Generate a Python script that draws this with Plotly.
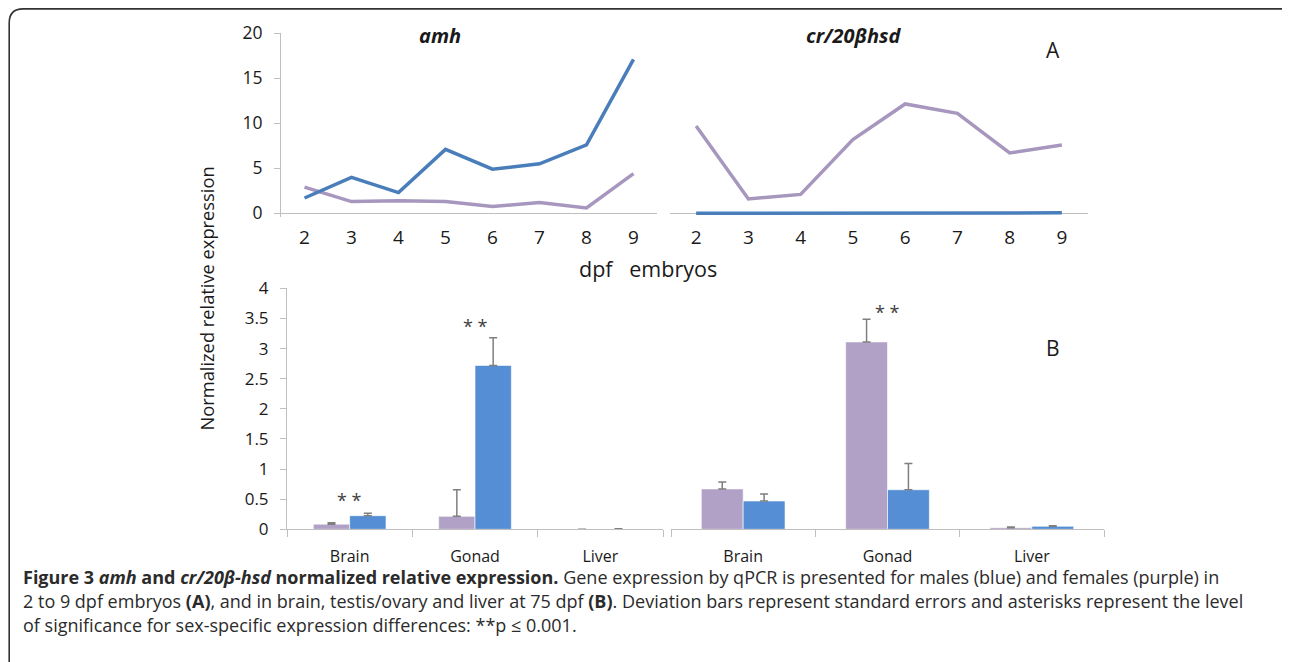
import plotly.graph_objects as go

W, H = 1290, 662
OFF = 8  # page body margin offset

# ---------------- data ----------------
days = ["2", "3", "4", "5", "6", "7", "8", "9"]
amh_male = [1.7, 4.0, 2.3, 7.1, 4.9, 5.5, 7.6, 17.1]
amh_female = [2.9, 1.3, 1.4, 1.3, 0.75, 1.2, 0.6, 4.4]
hsd_male = [0.0, 0.0, 0.0, 0.0, 0.0, 0.0, 0.02, 0.05]
hsd_female = [9.7, 1.6, 2.1, 8.2, 12.15, 11.1, 6.7, 7.6]

tissues = ["Brain", "Gonad", "Liver"]
amh_bar_female = [0.085, 0.215, 0.0]
amh_bar_female_err = [0.025, 0.44, 0.0]
amh_bar_male = [0.226, 2.72, 0.004]
amh_bar_male_err = [0.04, 0.46, 0.006]
hsd_bar_female = [0.67, 3.11, 0.027]
hsd_bar_female_err = [0.115, 0.375, 0.01]
hsd_bar_male = [0.47, 0.657, 0.05]
hsd_bar_male_err = [0.116, 0.435, 0.01]

PURPLE_LINE = "#A797BF"
BLUE_LINE = "#4A7EBB"
PURPLE_BAR = "#B2A1C7"
BLUE_BAR = "#558ED5"
AXIS = "#BFBFBF"
TXT = "#1a1a1a"
FONT = "Open Sans"


def fx(px):
    return (px - OFF) / W


def fy(py):
    return 1 - (py - OFF) / H


fig = go.Figure()

fig.add_trace(go.Scatter(x=days, y=amh_female, mode="lines", line=dict(color=PURPLE_LINE, width=3.5),
                         xaxis="x", yaxis="y", showlegend=False))
fig.add_trace(go.Scatter(x=days, y=amh_male, mode="lines", line=dict(color=BLUE_LINE, width=3.5),
                         xaxis="x", yaxis="y", showlegend=False))
fig.add_trace(go.Scatter(x=days, y=hsd_female, mode="lines", line=dict(color=PURPLE_LINE, width=3.5),
                         xaxis="x2", yaxis="y2", showlegend=False))
fig.add_trace(go.Scatter(x=days, y=hsd_male, mode="lines", line=dict(color=BLUE_LINE, width=3.5),
                         xaxis="x2", yaxis="y2", showlegend=False))

err_style = dict(type="data", symmetric=False, color="#7F7F7F", thickness=1.5, width=4)


def bars(y, err, color, xa, ya):
    e = dict(err_style)
    e["array"] = err
    e["arrayminus"] = [0] * len(err)
    return go.Bar(x=tissues, y=y, marker=dict(color=color, line=dict(color="rgba(255,255,255,0.6)", width=1)),
                  error_y=e, xaxis=xa, yaxis=ya, showlegend=False)


fig.add_trace(bars(amh_bar_female, amh_bar_female_err, PURPLE_BAR, "x3", "y3"))
fig.add_trace(bars(amh_bar_male, amh_bar_male_err, BLUE_BAR, "x3", "y3"))
fig.add_trace(bars(hsd_bar_female, hsd_bar_female_err, PURPLE_BAR, "x4", "y4"))
fig.add_trace(bars(hsd_bar_male, hsd_bar_male_err, BLUE_BAR, "x4", "y4"))

top_y0, top_y20 = 213.3, 33.3
ppu_top = (top_y0 - top_y20) / 20
ymin_top = -0.4
top_dom = [fy(top_y0 - ymin_top * ppu_top), fy(top_y20)]

bot_y0, bot_y4 = 529.3, 288.3
bot_dom = [fy(bot_y0), fy(bot_y4)]

xcat = dict(type="category", showgrid=False, zeroline=False)

fig.update_layout(
    width=W, height=H,
    margin=dict(l=0, r=0, t=0, b=0, autoexpand=False),
    paper_bgcolor="white", plot_bgcolor="rgba(0,0,0,0)",
    font=dict(family=FONT, color=TXT, size=16),
    barmode="group", bargap=0.42, bargroupgap=0,
    xaxis=dict(**xcat, domain=[fx(281), fx(657)], anchor="y", range=[-0.5, 7.5],
               showline=False, ticks="", tickfont=dict(size=19), automargin=False, ticklabelstandoff=7),
    yaxis=dict(domain=top_dom, anchor="x", range=[ymin_top, 20], tickvals=[0, 5, 10, 15, 20],
               showgrid=False, showline=True, linecolor=AXIS, linewidth=1,
               zeroline=True, zerolinecolor=AXIS, zerolinewidth=1, automargin=False,
               ticks="outside", ticklen=6, tickcolor=AXIS, tickfont=dict(size=17.5), ticklabelstandoff=8),
    xaxis2=dict(**xcat, domain=[fx(670), fx(1088)], anchor="y2", range=[-0.5, 7.5],
                showline=False, ticks="", tickfont=dict(size=19), automargin=False, ticklabelstandoff=7),
    yaxis2=dict(domain=top_dom, anchor="x2", range=[ymin_top, 20], showgrid=False, showline=False,
                zeroline=True, zerolinecolor=AXIS, zerolinewidth=1, showticklabels=False, ticks=""),
    xaxis3=dict(**xcat, domain=[fx(287), fx(663)], anchor="y3", range=[-0.5, 2.5], automargin=False,
                showline=True, linecolor=AXIS, linewidth=1, ticks="outside", tickson="boundaries",
                ticklen=7, tickcolor=AXIS, tickfont=dict(size=16), ticklabelstandoff=12),
    yaxis3=dict(domain=bot_dom, anchor="x3", range=[0, 4], tickvals=[0, 0.5, 1, 1.5, 2, 2.5, 3, 3.5, 4],
                ticktext=["0", "0.5", "1", "1.5", "2", "2.5", "3", "3.5", "4"], automargin=False,
                showgrid=False, showline=True, linecolor=AXIS, linewidth=1, zeroline=False,
                ticks="outside", ticklen=6, tickcolor=AXIS, tickfont=dict(size=17), ticklabelstandoff=8),
    xaxis4=dict(**xcat, domain=[fx(671), fx(1104)], anchor="y4", range=[-0.5, 2.5], automargin=False,
                showline=True, linecolor=AXIS, linewidth=1, ticks="outside", tickson="boundaries",
                ticklen=7, tickcolor=AXIS, tickfont=dict(size=16), ticklabelstandoff=12),
    yaxis4=dict(domain=bot_dom, anchor="x4", range=[0, 4], showgrid=False, showline=False,
                zeroline=False, showticklabels=False, ticks=""),
)

ann = []


def pa(text, px, py, size=16, **kw):
    d = dict(text=text, x=fx(px), y=fy(py), xref="paper", yref="paper", showarrow=False,
             xanchor="center", yanchor="middle",
             font=dict(size=size, family=FONT, color=kw.pop("color", TXT)))
    d.update(kw)
    ann.append(d)


pa("<b><i>amh</i></b>", 440, 35, 20)
pa("<b><i>cr/20βhsd</i></b>", 853, 35, 20)
pa("A", 1053, 50, 21)
pa("B", 1053, 348, 21)
pa("dpf   embryos", 648, 268, 21.5)
pa("Normalized relative expression", 206, 298.5, 18.3, textangle=-90)

for xa, ya, cat, yv in [("x3", "y3", "Brain", 0.49), ("x3", "y3", "Gonad", 3.37), ("x4", "y4", "Gonad", 3.6)]:
    ann.append(dict(text="* *", x=cat, y=yv, xref=xa, yref=ya, showarrow=False,
                    xanchor="center", yanchor="middle",
                    font=dict(size=18, family=FONT, color="#404040")))

cap1 = ("<b>Figure 3 </b><b><i>amh</i></b><b> and </b><b><i>cr/20β-hsd</i></b><b> normalized relative expression.</b>"
        " Gene expression by qPCR is presented for males (blue) and females (purple) in")
cap2 = ("2 to 9 dpf embryos <b>(A)</b>, and in brain, testis/ovary and liver at 75 dpf <b>(B)</b>. "
        "Deviation bars represent standard errors and asterisks represent the level")
cap3 = "of significance for sex-specific expression differences: **p ≤ 0.001."
for txt, py in [(cap1, 577), (cap2, 601), (cap3, 625)]:
    ann.append(dict(text=txt, x=fx(21), y=fy(py), xref="paper", yref="paper", showarrow=False,
                    xanchor="left", yanchor="middle", font=dict(size=18, family=FONT, color="#2b2b2b")))

fig.update_layout(annotations=ann)

r = 14
L, T, R, B = 9.2, 8.9, 1302, 661
path = (f"M {fx(L)},{fy(B + 12)} L {fx(L)},{fy(T + r)} Q {fx(L)},{fy(T)} {fx(L + r)},{fy(T)} "
        f"L {fx(R - r)},{fy(T)} Q {fx(R)},{fy(T)} {fx(R)},{fy(T + r)}")
fig.add_shape(type="path", path=path, xref="paper", yref="paper",
              line=dict(color="#333333", width=1.6))

fig.write_html("out.html")
